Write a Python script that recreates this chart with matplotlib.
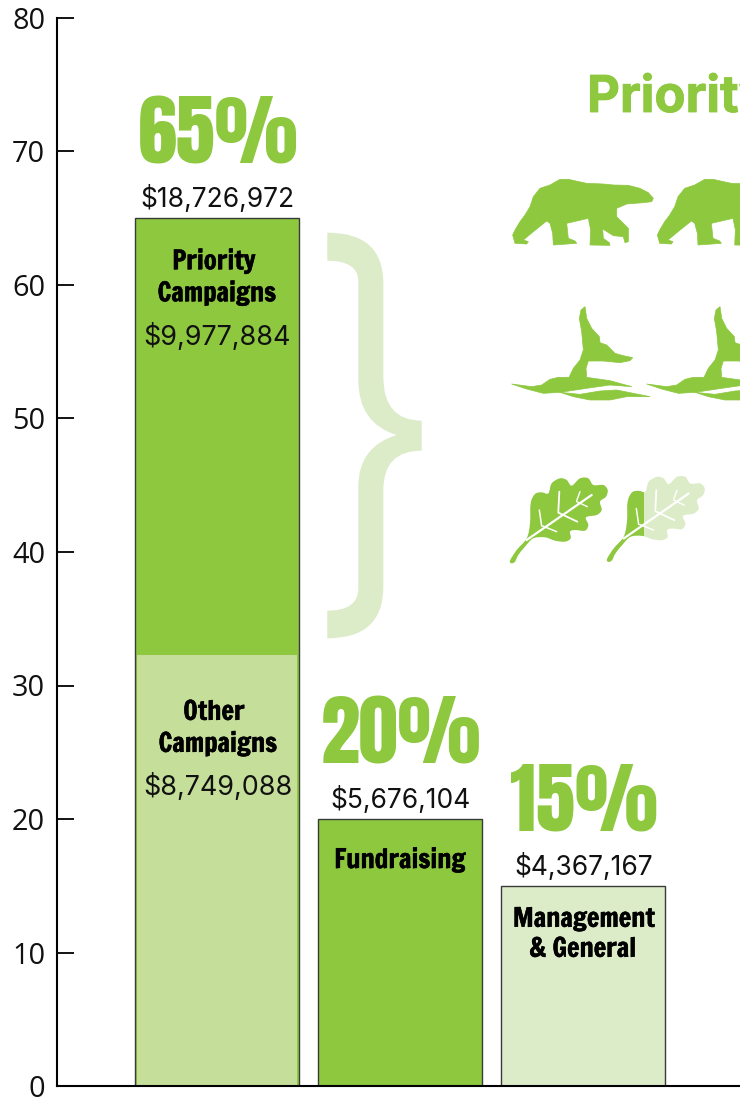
#!/usr/bin/env python3
"""Expense breakdown bars with the priority campaign icons beside them."""

import matplotlib

matplotlib.use("Agg")

import matplotlib.pyplot as plt
import numpy as np
from matplotlib import patheffects
from matplotlib.patches import PathPatch, Polygon, Rectangle
from matplotlib.path import Path

WIDTH, HEIGHT = 740, 1097

categories = ["Programs", "Fundraising", "Management & General"]
shares = [65, 20, 15]
other_campaigns = [32.3]
share_labels = ["65%", "20%", "15%"]
amount_labels = ["$18,726,972", "$5,676,104", "$4,367,167"]
y_ticks = [0, 10, 20, 30, 40, 50, 60, 70, 80]

GREEN = "#8dc83f"
MID = "#c5df9b"
PALE = "#dcebc8"

BEAR = [(460, 415), (445, 398), (420, 385), (385, 376), (340, 375), (310, 372), (260, 370),
        (205, 358), (180, 358), (150, 375), (120, 385), (100, 410), (90, 440), (75, 465),
        (60, 485), (45, 510), (38, 525), (45, 550), (80, 552), (85, 545), (70, 540), (100, 515),
        (140, 483), (150, 490), (158, 520), (160, 555), (230, 550), (225, 543), (205, 535),
        (200, 490), (265, 475), (272, 510), (270, 555), (330, 556), (328, 548), (310, 535),
        (308, 507), (340, 527), (370, 530), (375, 548), (385, 545), (385, 505), (350, 470),
        (350, 445), (380, 432), (430, 428), (455, 425)]
TAIL = [(255, 50), (243, 60), (238, 85), (245, 125), (250, 180), (240, 210), (220, 235), (207, 262),
        (175, 262), (150, 268), (125, 285), (95, 290), (35, 282), (80, 297), (130, 310), (180, 307),
        (260, 295), (330, 285), (395, 290), (330, 272), (260, 262), (258, 235), (265, 213),
        (310, 213), (360, 218), (390, 212), (398, 203), (370, 197), (345, 190), (320, 165),
        (300, 158), (298, 140), (275, 115), (260, 85)]
WAVE = [(180, 307), (220, 320), (270, 330), (330, 330), (380, 320), (450, 320), (400, 310),
        (350, 300), (300, 303), (240, 313)]
LEAF = [(35, 820), (30, 812), (50, 780), (80, 745), (90, 700), (92, 640), (105, 612), (125, 607),
        (145, 610), (155, 580), (180, 565), (200, 570), (215, 587), (240, 565), (265, 565),
        (280, 585), (310, 585), (323, 600), (318, 620), (300, 635), (305, 660), (290, 675),
        (258, 682), (265, 705), (255, 722), (225, 720), (210, 725), (212, 745), (195, 755),
        (165, 752), (135, 742), (100, 745), (75, 770), (55, 795), (45, 815)]
VEINS = [((80, 750), (275, 615), 1.6), ((175, 665), (178, 605), 1.3), ((175, 668), (232, 695), 1.3),
         ((125, 708), (118, 660), 1.1), ((128, 708), (170, 725), 1.1), ((230, 632), (240, 605), 1.0),
         ((230, 635), (262, 650), 1.0)]


def to_pixels(points, x0, y0, dx=0.0, dy=0.0):
    return [(x / 3 + x0 + dx, y / 3 + y0 + dy) for x, y in points]


def smooth_path(points):
    pts = np.array(points, dtype=float)
    n = len(pts)
    verts = [pts[0]]
    codes = [Path.MOVETO]
    for i in range(n):
        p0, p1, p2, p3 = pts[i - 1], pts[i], pts[(i + 1) % n], pts[(i + 2) % n]
        verts += [p1 + (p2 - p0) / 6, p2 - (p3 - p1) / 6, p2]
        codes += [Path.CURVE4] * 3
    return Path(verts, codes)


def brace_path():
    x0, y0 = 310, 220
    pts = [(52, 38), (220, 38), (220, 190), (220, 470), (220, 602), (335, 602), (335, 692),
           (220, 692), (220, 810), (220, 1100), (220, 1255), (52, 1255), (52, 1172),
           (145, 1172), (145, 1105), (145, 800), (145, 680), (260, 645), (145, 610), (145, 480),
           (145, 185), (145, 122), (52, 122), (52, 38)]
    c3, ln = Path.CURVE3, Path.LINETO
    codes = [Path.MOVETO, c3, c3, ln, c3, c3, ln, c3, c3, ln, c3, c3, ln, c3, c3, ln,
             c3, c3, c3, c3, ln, c3, c3, ln]
    return Path(to_pixels(pts, x0, y0), codes)


def label(ax, x, top, text, drop, dx=0, **kw):
    # offset from the bar top in pixels, positive goes down
    ax.annotate(text, (x, top), xytext=(dx, -drop), textcoords="offset pixels",
                ha="center", va="baseline", annotation_clip=False, **kw)


fig = plt.figure(figsize=(WIDTH / 100, HEIGHT / 100), dpi=100)
ax = fig.add_axes([57 / WIDTH, 11 / HEIGHT, 683 / WIDTH, 1068 / HEIGHT])

x = np.arange(len(categories))
colors = [GREEN, GREEN, PALE]
ax.bar(x, shares, width=0.9, color=colors, edgecolor="#3a3a3a", linewidth=1.0, zorder=2)
ax.bar(x[:1], other_campaigns, width=0.875, color=MID, linewidth=0, zorder=3)

ax.set_xlim(-0.874, 2.858)
ax.set_ylim(0, 80)
ax.set_xticks([])
ax.set_yticks(y_ticks)
ax.tick_params(axis="y", direction="in", length=12.2, width=1.3, pad=8.5, color="black")
for tick in ax.get_yticklabels():
    tick.set_fontfamily(["Open Sans", "DejaVu Sans"])
    tick.set_fontsize(20.8)
    tick.set_color("#111111")
ax.spines["top"].set_visible(False)
ax.spines["right"].set_visible(False)
ax.spines["left"].set_linewidth(1.5)
ax.spines["bottom"].set_linewidth(1.5)
ax.spines["bottom"].set_zorder(5)

heavy = dict(family=["Francois One", "Liberation Sans", "DejaVu Sans"], color="black", fontsize=19,
             path_effects=[patheffects.withStroke(linewidth=0.35, foreground="black")])
plain = dict(family=["Inter", "DejaVu Sans"], color="#111111", fontsize=19)
inner = dict(plain, fontsize=19.4)

for i, top in enumerate(shares):
    label(ax, i, top, share_labels[i], -55, dx=1, family=["Anton", "Liberation Sans", "DejaVu Sans"],
          color=GREEN, fontsize=56.5)
    label(ax, i, top, amount_labels[i], -11, dx=1, **plain)

label(ax, 0, shares[0], "Priority", 51, dx=-3, **heavy)
label(ax, 0, shares[0], "Campaigns", 83, **heavy)
label(ax, 0, shares[0], "$9,977,884", 127, **inner)
label(ax, 0, other_campaigns[0], "Other", 65, dx=-3, **heavy)
label(ax, 0, other_campaigns[0], "Campaigns", 97, dx=1, **heavy)
label(ax, 0, other_campaigns[0], "$8,749,088", 140, dx=1, **inner)
label(ax, 1, shares[1], "Fundraising", 49, **heavy)
label(ax, 2, shares[2], "Management", 41, dx=1, **heavy)
label(ax, 2, shares[2], "& General", 71, **heavy)

# icons and the brace sit on a pixel-sized overlay
deco = fig.add_axes([0, 0, 1, 1], zorder=4)
deco.set_xlim(0, WIDTH)
deco.set_ylim(HEIGHT, 0)
deco.axis("off")

deco.add_patch(PathPatch(brace_path(), facecolor=PALE, edgecolor="none"))
deco.text(587, 112, "Priority", family=["Inter", "DejaVu Sans"], weight="bold", color=GREEN,
          fontsize=36.6, va="baseline", ha="left",
          path_effects=[patheffects.withStroke(linewidth=0.6, foreground=GREEN)])

soft = dict(facecolor=GREEN, edgecolor=GREEN, linewidth=0.5, joinstyle="round")
for dx in (0, 144.7):
    deco.add_patch(Polygon(to_pixels(BEAR, 500, 60, dx=dx), **soft))
for dx in (0, 135):
    deco.add_patch(Polygon(to_pixels(TAIL, 500, 290, dx=dx), **soft))
    deco.add_patch(Polygon(to_pixels(WAVE, 500, 290, dx=dx), **soft))

deco.add_patch(PathPatch(smooth_path(to_pixels(LEAF, 500, 290)), facecolor=GREEN, edgecolor="none"))
leaf2 = smooth_path(to_pixels(LEAF, 500, 290, dx=97, dy=-1.5))
deco.add_patch(PathPatch(leaf2, facecolor=PALE, edgecolor="none"))
half = PathPatch(leaf2, facecolor=GREEN, edgecolor="none")
deco.add_patch(half)
half.set_clip_path(Rectangle((600, 470), 43.5, 110, transform=deco.transData))
for dx, dy in ((0, 0), (97, -1.5)):
    for start, end, lw in VEINS:
        (xa, ya), (xb, yb) = to_pixels([start, end], 500, 290, dx=dx, dy=dy)
        deco.plot([xa, xb], [ya, yb], color="white", lw=lw, solid_capstyle="round")

fig.savefig("out.png", dpi=100)
